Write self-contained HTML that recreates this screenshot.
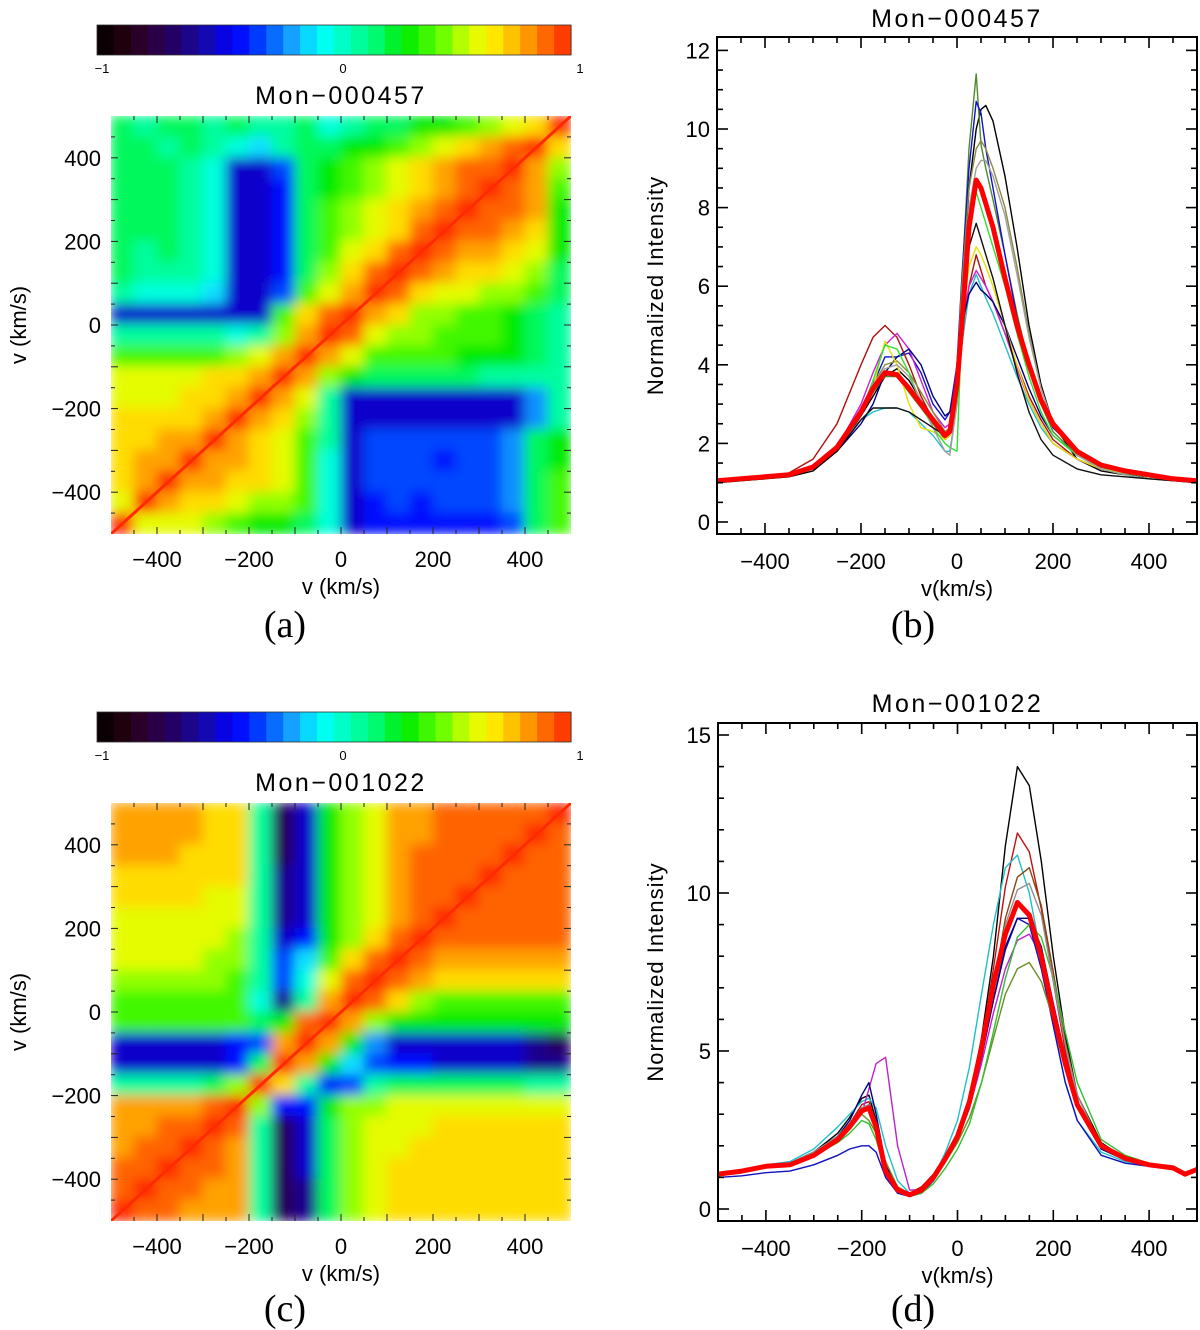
<!DOCTYPE html>
<html><head><meta charset="utf-8">
<style>
html,body{margin:0;padding:0;background:#fff;}
svg{display:block;font-family:"Liberation Sans",sans-serif;}
.t{font-size:22px;fill:#000;}
.ti{font-size:25px;letter-spacing:2.5px;fill:#000;}
.cb{font-size:13px;fill:#000;}
.pl{font-family:"Liberation Serif",serif;font-size:38px;fill:#000;}
</style></head>
<body>
<svg id="fig" width="1200" height="1330" viewBox="0 0 1200 1330" xmlns="http://www.w3.org/2000/svg">
<defs>
<filter id="blur" x="0" y="0" width="1" height="1"><feGaussianBlur stdDeviation="6" edgeMode="duplicate"/></filter>
<clipPath id="clipA"><rect x="111" y="116" width="460" height="418"/></clipPath>
<clipPath id="clipC"><rect x="111" y="803" width="460" height="418"/></clipPath>
<clipPath id="clipB"><rect x="717" y="37" width="480" height="497"/></clipPath>
<clipPath id="clipD"><rect x="718" y="723" width="479" height="498"/></clipPath>
</defs>
<g id="root"></g>
</svg>
<script>
// ---------- DATA ----------
const heatBins = [-475,-425,-375,-325,-275,-225,-175,-125,-75,-25,25,75,125,175,225,275,325,375,425,475];
// rows top (v=475) to bottom (v=-475), values x10
const heatA = [
[2,1,2,2,1,2,1,1,2,0,1,2,2,3,3,4,5,6,7,10],
[2,2,1,2,1,0,-1,1,2,2,3,3,4,5,6,7,8,9,10,7],
[2,2,2,1,0,-5,-5,-3,2,3,4,5,6,7,8,9,9,10,8,5],
[2,2,2,1,0,-5,-5,-4,2,3,4,5,6,7,8,9,10,9,8,4],
[2,2,2,1,0,-5,-5,-4,2,4,5,6,7,8,9,10,9,9,8,3],
[2,2,2,1,0,-5,-5,-4,2,4,5,6,7,9,10,9,9,8,7,3],
[2,1,2,1,0,-5,-5,-4,2,4,6,7,9,10,9,8,8,7,6,3],
[2,1,1,1,0,-5,-5,-4,2,5,7,9,10,9,8,7,7,6,5,2],
[1,0,0,0,-1,-5,-5,-3,4,6,8,10,9,7,6,6,5,5,4,2],
[-5,-5,-5,-5,-5,-5,-5,4,7,9,10,8,7,5,5,4,4,3,2,1],
[1,1,1,1,1,0,1,5,8,10,9,6,5,5,4,4,4,3,2,1],
[4,4,4,4,4,5,6,8,10,8,6,4,4,4,4,3,3,3,2,1],
[6,6,6,6,7,7,8,10,8,5,3,2,2,2,2,2,1,1,1,1],
[6,6,6,7,7,8,10,8,6,1,-5,-5,-5,-5,-5,-5,-5,-5,-2,1],
[7,7,7,7,8,10,8,7,5,1,-5,-5,-5,-5,-5,-5,-5,-5,-2,1],
[7,7,8,8,10,8,7,6,4,1,-5,-3,-3,-3,-3,-3,-3,-2,2,3],
[7,8,8,10,8,8,7,6,4,0,-5,-3,-3,-3,-4,-3,-3,-2,2,3],
[7,8,10,8,8,7,7,6,4,0,-5,-3,-3,-3,-3,-3,-3,-2,2,4],
[6,10,8,7,7,6,5,5,4,0,-5,-4,-3,-4,-3,-3,-3,-2,2,4],
[10,6,6,6,5,4,3,3,2,0,-5,-4,-4,-4,-4,-4,-4,-3,2,4]
];
const heatC = [
[8,8,8,8,7,7,1,-7,-5,3,5,6,8,8,9,9,9,9,9,10],
[8,8,8,8,7,7,1,-7,-5,3,5,6,8,8,9,9,9,9,10,9],
[8,8,8,7,7,7,1,-7,-5,3,5,6,8,9,9,9,9,10,9,9],
[7,7,7,7,7,7,1,-6,-5,3,5,6,8,9,9,9,10,9,9,9],
[7,7,7,7,6,6,1,-6,-5,3,5,6,8,9,9,10,9,9,9,9],
[6,6,6,6,6,6,1,-6,-5,3,5,6,8,9,10,9,9,9,9,9],
[6,6,6,6,6,5,1,-5,-4,3,5,7,9,10,9,9,9,9,9,9],
[6,6,6,6,5,5,1,-3,-1,4,7,9,10,9,8,8,8,8,8,8],
[5,5,5,5,5,4,1,-3,0,6,9,10,9,8,7,7,7,7,7,7],
[4,4,4,4,4,4,0,-6,1,8,10,9,7,5,4,4,4,4,4,4],
[4,4,4,4,4,4,2,3,9,10,8,5,3,3,3,3,3,3,3,3],
[-5,-5,-5,-5,-5,-4,-3,8,10,8,3,-2,-5,-5,-5,-5,-5,-5,-6,-7],
[-5,-5,-5,-5,-5,-4,2,10,8,3,-1,-3,-4,-4,-5,-5,-5,-5,-6,-6],
[1,1,1,1,2,5,10,7,1,-4,-3,1,2,2,2,2,2,2,1,1],
[8,8,8,8,9,10,5,-4,-4,3,5,5,6,6,6,6,6,6,6,6],
[8,8,9,9,10,9,1,-7,-5,2,5,6,6,6,7,7,7,7,7,7],
[8,9,9,10,9,8,1,-7,-5,2,5,6,6,7,7,7,7,7,7,7],
[9,9,10,9,9,8,1,-7,-5,2,5,6,7,7,7,7,7,7,7,7],
[9,10,9,9,8,8,1,-7,-6,2,5,6,7,7,7,7,7,7,7,7],
[10,9,9,8,8,8,1,-7,-6,2,5,6,7,7,7,7,7,7,7,7]
];
const velB = [-500,-450,-400,-350,-300,-250,-200,-175,-150,-125,-100,-75,-50,-25,-15,0,10,25,40,50,60,75,100,125,150,175,200,250,300,350,400,450,500];
const meanB = [1.05,1.1,1.15,1.2,1.4,1.9,2.8,3.4,3.8,3.75,3.4,3.0,2.6,2.2,2.3,3.5,5.0,7.5,8.7,8.5,8.1,7.5,6.2,5.0,4.0,3.1,2.5,1.8,1.45,1.3,1.2,1.1,1.05];
const seriesB1 = [1.0,1.05,1.1,1.15,1.3,1.8,2.7,3.2,3.7,3.9,3.6,3.1,2.6,2.2,2.3,3.6,5.5,8.5,10.0,10.5,10.6,10.2,8.8,7.0,5.0,3.5,2.5,1.6,1.3,1.2,1.15,1.1,1.05];
const seriesB2 = [1.05,1.1,1.15,1.2,1.4,1.9,2.8,3.3,3.7,3.7,3.3,2.9,2.5,2.1,2.2,3.5,6.0,9.5,11.4,9.6,9.0,8.2,6.8,5.3,4.0,3.0,2.3,1.7,1.4,1.25,1.15,1.1,1.05];
const seriesB3 = [1.05,1.1,1.15,1.2,1.4,1.9,2.9,3.5,4.2,4.2,4.3,3.8,3.0,2.6,2.8,4.0,6.2,9.0,10.7,10.4,9.5,8.5,6.8,5.2,4.0,3.0,2.4,1.8,1.45,1.3,1.2,1.1,1.05];
const seriesB4 = [1.05,1.1,1.15,1.25,1.6,2.5,4.0,4.7,5.0,4.7,4.0,3.2,2.6,2.1,2.2,3.3,4.8,6.0,6.8,6.4,6.0,5.6,4.8,4.0,3.2,2.6,2.1,1.6,1.35,1.25,1.15,1.1,1.05];
const seriesB5 = [1.05,1.1,1.15,1.2,1.4,1.9,2.6,2.8,2.9,2.9,2.8,2.5,2.2,1.8,1.8,3.0,4.5,5.8,6.3,6.0,5.7,5.3,4.5,3.7,3.0,2.4,2.0,1.6,1.35,1.25,1.15,1.1,1.05];
const seriesB6 = [1.05,1.1,1.15,1.2,1.4,1.9,3.0,3.8,4.5,4.8,4.4,3.6,2.8,2.4,2.5,3.4,5.0,6.0,6.4,6.2,6.0,5.6,4.8,3.9,3.1,2.5,2.0,1.6,1.35,1.25,1.15,1.1,1.05];
const seriesB7 = [1.05,1.1,1.15,1.2,1.4,1.8,2.5,3.0,3.8,4.2,4.4,4.0,3.2,2.7,2.8,3.6,5.0,5.8,6.1,5.9,5.8,5.6,5.0,4.2,3.4,2.7,2.2,1.7,1.4,1.25,1.15,1.1,1.05];
const seriesB8 = [1.0,1.05,1.1,1.2,1.4,1.9,2.8,3.5,4.0,4.1,3.8,3.3,2.8,2.3,2.4,3.8,6.0,8.5,9.5,9.7,9.5,9.0,8.0,6.5,4.8,3.4,2.5,1.7,1.35,1.2,1.1,1.05,1.0];
const seriesB9 = [1.0,1.05,1.1,1.2,1.4,1.9,2.8,3.4,4.6,4.0,3.0,2.4,2.3,2.1,2.2,3.4,5.0,6.5,7.0,6.8,6.5,6.0,5.0,4.0,3.1,2.5,2.0,1.6,1.35,1.25,1.15,1.1,1.0];
const seriesB10 = [1.05,1.1,1.15,1.2,1.4,1.9,2.8,3.6,4.5,4.4,3.8,3.0,2.4,2.0,1.9,1.8,5.0,7.5,8.4,8.0,7.6,7.0,6.0,4.8,3.7,2.8,2.2,1.7,1.4,1.25,1.15,1.1,1.05];
const seriesB11 = [1.0,1.05,1.1,1.2,1.4,1.9,2.9,3.5,3.9,4.0,3.7,3.1,2.4,1.8,1.7,3.0,5.2,8.0,9.0,9.2,9.2,8.8,7.8,6.3,4.7,3.4,2.5,1.7,1.35,1.2,1.1,1.05,1.0];
const seriesB12 = [1.0,1.05,1.1,1.2,1.35,1.8,2.6,2.9,2.9,2.9,2.8,2.6,2.4,2.2,2.3,3.5,5.5,7.0,7.6,7.2,6.8,6.2,5.0,3.8,2.8,2.1,1.7,1.35,1.2,1.15,1.1,1.05,1.0];
const colorsB = ["#000000","#4f8a2a","#1010d0","#b01010","#20c0c8","#d020d0","#000080","#8a8a40","#e8e000","#30e030","#a0a0a0","#101010"];

const velD = [-500,-450,-400,-350,-300,-250,-225,-200,-185,-170,-150,-125,-100,-75,-50,-25,0,25,50,75,100,125,150,175,200,225,250,300,350,400,450,475,500];
const meanD = [1.1,1.2,1.35,1.4,1.7,2.2,2.6,3.1,3.2,2.6,1.2,0.6,0.45,0.6,1.0,1.6,2.3,3.4,5.1,7.1,8.7,9.7,9.3,8.0,6.2,4.6,3.3,2.0,1.6,1.4,1.3,1.1,1.25];
const seriesD1 = [1.1,1.2,1.35,1.45,1.8,2.4,2.9,3.5,3.6,2.8,1.2,0.6,0.5,0.7,1.1,1.7,2.4,3.5,5.4,8.0,11.5,14.0,13.4,11.0,8.0,5.5,3.6,2.1,1.6,1.4,1.3,1.15,1.25];
const seriesD2 = [1.1,1.2,1.35,1.45,1.8,2.3,2.7,3.3,3.4,2.7,1.2,0.6,0.5,0.7,1.1,1.7,2.4,3.4,5.2,7.6,10.2,11.9,11.3,9.5,7.2,5.0,3.4,2.0,1.6,1.4,1.3,1.15,1.25];
const seriesD3 = [1.1,1.2,1.4,1.5,1.9,2.6,3.0,3.4,3.5,3.2,2.0,0.9,0.5,0.6,1.0,1.8,2.8,4.5,6.8,9.0,10.8,11.2,10.0,8.0,5.8,4.0,2.8,1.8,1.5,1.35,1.3,1.15,1.25];
const seriesD4 = [1.1,1.2,1.35,1.45,1.8,2.3,2.6,3.0,3.8,4.6,4.8,2.0,0.6,0.6,1.0,1.6,2.2,3.2,4.6,6.2,7.6,8.5,8.7,8.0,6.5,4.8,3.4,2.0,1.6,1.4,1.3,1.15,1.25];
const seriesD5 = [1.0,1.05,1.15,1.2,1.4,1.7,1.9,2.0,2.0,1.8,1.0,0.5,0.4,0.5,0.9,1.5,2.2,3.2,4.8,6.6,8.2,9.2,9.0,7.6,5.8,4.0,2.8,1.7,1.45,1.35,1.25,1.1,1.2];
const seriesD6 = [1.1,1.2,1.35,1.45,1.8,2.3,2.7,3.2,3.3,2.6,1.2,0.6,0.45,0.6,1.0,1.6,2.3,3.4,5.0,7.0,9.2,10.5,10.8,9.6,7.5,5.3,3.6,2.0,1.6,1.4,1.3,1.15,1.25];
const seriesD7 = [1.1,1.2,1.35,1.45,1.8,2.3,2.6,3.0,2.8,2.4,1.5,0.7,0.5,0.6,1.0,1.5,2.1,2.9,4.0,5.4,6.8,7.6,7.8,7.2,6.0,4.5,3.2,1.9,1.55,1.4,1.3,1.15,1.25];
const seriesD8 = [1.1,1.2,1.35,1.45,1.8,2.3,2.8,3.6,4.0,3.0,1.4,0.6,0.45,0.6,1.0,1.6,2.3,3.3,4.8,6.6,8.3,9.2,9.2,8.3,6.5,4.8,3.4,1.9,1.55,1.4,1.3,1.15,1.25];
const seriesD9 = [1.1,1.2,1.35,1.45,1.7,2.1,2.4,2.8,2.7,2.2,1.2,0.6,0.4,0.5,0.8,1.3,1.9,2.7,4.0,5.6,7.3,8.6,9.0,8.6,7.3,5.6,4.0,2.2,1.7,1.45,1.3,1.15,1.25];
const seriesD10 = [1.1,1.2,1.35,1.45,1.8,2.3,2.7,3.2,3.3,2.6,1.2,0.6,0.45,0.6,1.0,1.6,2.3,3.4,5.0,7.0,9.0,10.1,10.3,9.3,7.2,5.2,3.6,2.0,1.6,1.4,1.3,1.15,1.25];
const colorsD = ["#000000","#c01010","#20c0c8","#c020d0","#1010c0","#8b4513","#6b8e23","#000080","#30c030","#909090"];

const xTicksHeat = [-400,-200,0,200,400];
const yTicksHeat = [400,200,0,-200,-400];
const yTicksB = [0,2,4,6,8,10,12];
const yTicksD = [0,5,10,15];
const xTicksLine = [-400,-200,0,200,400];

// ---------- helpers ----------
const NS = "http://www.w3.org/2000/svg";
const root = document.getElementById("root");
function mk(tag, attrs, parent){const e=document.createElementNS(NS,tag);for(const k in attrs)e.setAttribute(k,attrs[k]);(parent||root).appendChild(e);return e;}
const stops=[[-1,[0,0,0]],[-0.9,[30,0,10]],[-0.8,[45,0,50]],[-0.68,[35,0,100]],[-0.55,[20,10,170]],[-0.42,[0,0,255]],[-0.3,[0,70,255]],[-0.18,[20,160,255]],[-0.06,[0,255,255]],[0.05,[0,255,190]],[0.18,[0,250,110]],[0.3,[0,235,0]],[0.45,[100,255,0]],[0.58,[220,255,0]],[0.66,[255,240,0]],[0.74,[255,200,0]],[0.82,[255,150,0]],[0.9,[255,100,0]],[1,[255,40,0]]];
function cmap(v){v=Math.max(-1,Math.min(1,v));for(let i=1;i<stops.length;i++){if(v<=stops[i][0]){const a=stops[i-1],b=stops[i];const t=(v-a[0])/(b[0]-a[0]);const c=a[1].map((x,j)=>Math.round(x+(b[1][j]-x)*t));return `rgb(${c[0]},${c[1]},${c[2]})`;}}return "rgb(255,40,0)";}

function text(x,y,s,cls,anchor,parent){const t=mk("text",{x:x,y:y,class:cls,"text-anchor":anchor||"middle"},parent);t.textContent=s;return t;}

// ---------- colorbar ----------
function colorbar(y0,tag){
  const g=mk("g",{});
  
  
  const x0=97,x1=571,n=28,w=(x1-x0)/n;
  for(let i=0;i<n;i++){
    const v=-1+(i+0.5)*2/n;
    const r=mk("rect",{x:x0+i*w,y:y0,width:w+0.6,height:30,fill:cmap(v)},g);
    
    
  }
  mk("rect",{x:x0,y:y0,width:x1-x0,height:30,fill:"none",stroke:"#333","stroke-width":0.8},g);
  const l1=text(102,y0+48,"−1","cb","middle",g);
  
  
  const l2=text(343,y0+48,"0","cb","middle",g);
  
  
  const l3=text(580,y0+48,"1","cb","middle",g);
  
  
}

// ---------- heatmap ----------
function heatmap(mat,top,clip,tag,title,titleY){
  const left=111,W=460,H=418;
  const hx=v=>left+(v+500)*W/1000;
  const hy=v=>top+(500-v)*H/1000;
  const g=mk("g",{"clip-path":`url(#${clip})`});
  
  
  const inner=mk("g",{filter:"url(#blur)"},g);
  const half=25;
  mat.forEach((row,ri)=>{
    const vy=heatBins[heatBins.length-1-ri];
    row.forEach((val,ci)=>{
      const vx=heatBins[ci];
      const r=mk("rect",{x:hx(vx-half)-0.5,y:hy(vy+half)-0.5,width:hx(vx+half)-hx(vx-half)+1,height:hy(vy-half)-hy(vy+half)+1,fill:cmap(val/10)},inner);
      
      
    });
  });
  const d=mk("line",{x1:hx(-500),y1:hy(-500),x2:hx(500),y2:hy(500),stroke:"#ff2a00","stroke-width":3},g);
  
  
  const tg=mk("g",{stroke:"#222","stroke-width":1});
  
  
  for(let v=-450;v<=450;v+=50){
    const L=(v%100===0)?7:4;
    mk("line",{x1:hx(v),y1:top+H,x2:hx(v),y2:top+H-L},tg);
    mk("line",{x1:hx(v),y1:top,x2:hx(v),y2:top+L},tg);
    mk("line",{x1:left,y1:hy(v),x2:left+L,y2:hy(v)},tg);
    mk("line",{x1:left+W,y1:hy(v),x2:left+W-L,y2:hy(v)},tg);
  }
  xTicksHeat.forEach(v=>{const t=text(hx(v),top+H+33,String(v).replace("-","−"),"t");});
  yTicksHeat.forEach(v=>{const t=text(101,hy(v)+8,String(v).replace("-","−"),"t","end");});
  const xt=text(341,top+H+60,"v (km/s)","t");
  
  
  const yt=text(0,0,"v (km/s)","t");
  yt.setAttribute("transform",`translate(26,${top+H/2}) rotate(-90)`);
  
  
  const tt=text(341,titleY,title,"ti");
  
  
}

// ---------- line panel ----------
function linePanel(opt){
  const {left,right,top,bottom,zeroY,unit,vel,series,colors,mean,yTicks,minorStep,yMax,clip,tag,title,titleY}=opt;
  const x=v=>left+(v+500)*(right-left)/1000;
  const y=I=>zeroY-I*unit;
  const g=mk("g",{"clip-path":`url(#${clip})`});
  
  
  series.forEach((s,i)=>{
    const p=mk("polyline",{points:s.map((v,j)=>x(vel[j]).toFixed(1)+","+y(v).toFixed(1)).join(" "),fill:"none",stroke:colors[i],"stroke-width":1.4,"stroke-linejoin":"round"},g);
    
    
  });
  const m=mk("polyline",{points:mean.map((v,j)=>x(vel[j]).toFixed(1)+","+y(v).toFixed(1)).join(" "),fill:"none",stroke:"#ff0000","stroke-width":5,"stroke-linejoin":"round"},g);
  
  
  const f=mk("rect",{x:left,y:top,width:right-left,height:bottom-top,fill:"none",stroke:"#000","stroke-width":2});
  
  
  const tg=mk("g",{stroke:"#000","stroke-width":1.6});
  
  
  for(let v=-450;v<=450;v+=50){
    const L=(v%200===0)?11:6;
    mk("line",{x1:x(v),y1:bottom,x2:x(v),y2:bottom-L},tg);
    mk("line",{x1:x(v),y1:top,x2:x(v),y2:top+L},tg);
  }
  for(let I=0;I<=yMax+1e-6;I+=minorStep){
    const yy=y(I); if(yy<top+1)continue;
    const major=yTicks.some(t=>Math.abs(t-I)<1e-6);
    const L=major?11:6;
    mk("line",{x1:left,y1:yy,x2:left+L,y2:yy},tg);
    mk("line",{x1:right,y1:yy,x2:right-L,y2:yy},tg);
  }
  xTicksLine.forEach(v=>{const t=text(x(v),bottom+35,String(v).replace("-","−"),"t");});
  yTicks.forEach(v=>{const t=text(left-7,y(v)+8,String(v),"t","end");});
  const xt=text(x(0),bottom+62,"v(km/s)","t");
  
  
  const yt=text(0,0,"Normalized Intensity","t");
  yt.setAttribute("transform",`translate(663,${(top+bottom)/2}) rotate(-90)`);
  yt.setAttribute("style","letter-spacing:1px");
  
  
  const tt=text(x(0),titleY,title,"ti");
  
  
}

// ---------- build ----------
colorbar(25,"a");
heatmap(heatA,116,"clipA","a","Mon−000457",104);
colorbar(712,"c");
heatmap(heatC,803,"clipC","c","Mon−001022",791);

linePanel({left:717,right:1197,top:37,bottom:534,zeroY:522,unit:39.3,vel:velB,
  series:[seriesB1,seriesB2,seriesB3,seriesB4,seriesB5,seriesB6,seriesB7,seriesB8,seriesB9,seriesB10,seriesB11,seriesB12],
  colors:colorsB,mean:meanB,yTicks:yTicksB,minorStep:0.5,yMax:12.3,clip:"clipB",tag:"b",title:"Mon−000457",titleY:27});
linePanel({left:718,right:1197,top:723,bottom:1221,zeroY:1209,unit:31.6,vel:velD,
  series:[seriesD1,seriesD2,seriesD3,seriesD4,seriesD5,seriesD6,seriesD7,seriesD8,seriesD9,seriesD10],
  colors:colorsD,mean:meanD,yTicks:yTicksD,minorStep:1,yMax:15.3,clip:"clipD",tag:"d",title:"Mon−001022",titleY:712});

[["(a)",285,637],["(b)",913,637],["(c)",285,1321],["(d)",913,1321]].forEach(p=>{
  const t=text(p[1],p[2],p[0],"pl");
  
  
});
</script>
</body></html>
